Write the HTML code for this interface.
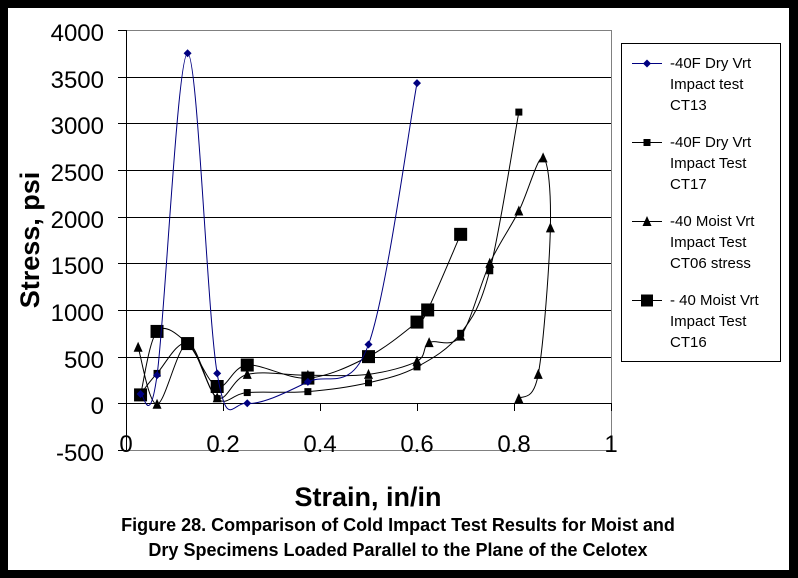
<!DOCTYPE html>
<html><head><meta charset="utf-8"><style>
html,body{margin:0;padding:0;background:#000;}
svg{display:block;font-family:"Liberation Sans",Arial,sans-serif;}
</style></head><body>
<svg id="s" width="798" height="578" xmlns="http://www.w3.org/2000/svg">
<rect x="0" y="0" width="798" height="578" fill="#000"/>
<rect x="8" y="8" width="781" height="562" fill="#fff"/>
<g id="grid"></g>
<g font-size="24" text-anchor="end" fill="#000">
<text x="104" y="41">4000</text><text x="104" y="88">3500</text><text x="104" y="134">3000</text>
<text x="104" y="181">2500</text><text x="104" y="228">2000</text><text x="104" y="274">1500</text>
<text x="104" y="321">1000</text><text x="104" y="368">500</text><text x="104" y="414">0</text>
<text x="104" y="461">-500</text>
</g>
<g font-size="24" text-anchor="middle">
<text x="126" y="452">0</text><text x="223" y="452">0.2</text><text x="320" y="452">0.4</text>
<text x="417" y="452">0.6</text><text x="514" y="452">0.8</text><text x="611" y="452">1</text>
</g>
<text transform="translate(39,240) rotate(-90)" font-size="27" font-weight="bold" text-anchor="middle">Stress, psi</text>
<text x="368" y="506" font-size="27" font-weight="bold" text-anchor="middle">Strain, in/in</text>
<text x="398" y="531" font-size="18" font-weight="bold" text-anchor="middle">Figure 28. Comparison of Cold Impact Test Results for Moist and</text>
<text x="398" y="556" font-size="18" font-weight="bold" text-anchor="middle">Dry Specimens Loaded Parallel to the Plane of the Celotex</text>
<g id="series"></g>
<rect x="621.5" y="43.5" width="159" height="318" fill="#fff" stroke="#000" stroke-width="1"/>
<g font-size="15" fill="#000">
<text x="670" y="68">-40F Dry Vrt</text><text x="670" y="89">Impact test</text><text x="670" y="110">CT13</text>
<text x="670" y="147">-40F Dry Vrt</text><text x="670" y="168">Impact Test</text><text x="670" y="189">CT17</text>
<text x="670" y="226">-40 Moist Vrt</text><text x="670" y="247">Impact Test</text><text x="670" y="268">CT06 stress</text>
<text x="670" y="305">- 40 Moist Vrt</text><text x="670" y="326">Impact Test</text><text x="670" y="347">CT16</text>
</g>
<g id="leg"></g>
</svg>
<script>
var NS="http://www.w3.org/2000/svg";
function el(p,t,a){var e=document.createElementNS(NS,t);for(var k in a)e.setAttribute(k,a[k]);p.appendChild(e);return e;}
function X(v){return 126+v*485;}
function Y(v){return 403.3-v*46.67/500;}
var g=document.getElementById('grid');
for(var i=1;i<=7;i++){var y=Math.round(Y(i*500))+0.5;el(g,'line',{x1:126,x2:611,y1:y,y2:y,stroke:'#000'});}
el(g,'line',{x1:126,x2:611,y1:30.5,y2:30.5,stroke:'#808080'});
el(g,'line',{x1:126,x2:611,y1:450.5,y2:450.5,stroke:'#808080'});
el(g,'line',{x1:611.5,x2:611.5,y1:30,y2:450,stroke:'#808080'});
el(g,'line',{x1:126.5,x2:126.5,y1:30,y2:450,stroke:'#000'});
el(g,'line',{x1:126,x2:611,y1:403.5,y2:403.5,stroke:'#000'});
for(var i=0;i<=9;i++){var y=Math.round(Y(i*500-500))+0.5;el(g,'line',{x1:118,x2:126,y1:y,y2:y,stroke:'#000'});}
for(var i=1;i<=5;i++){var x=Math.round(X(i*0.2))+0.5;el(g,'line',{x1:x,x2:x,y1:403,y2:411,stroke:'#000'});}
var S=[
{c:'#000',m:'sq',s:7,d:[[0.03,100],[0.064,320],[0.127,640],[0.188,50],[0.25,115],[0.375,125],[0.5,220],[0.6,390],[0.69,750],[0.75,1420],[0.81,3120]]},
{c:'#000',m:'sq',s:13,d:[[0.03,90],[0.064,770],[0.127,640],[0.188,180],[0.25,410],[0.375,270],[0.5,500],[0.6,870],[0.622,1000],[0.69,1810]]},
{c:'#000',m:'tri',s:9,d:[[0.025,600],[0.064,-10],[0.127,640],[0.188,60],[0.25,310],[0.375,300],[0.5,310],[0.6,450],[0.625,650],[0.69,720],[0.75,1500],[0.81,2060],[0.86,2630],[0.875,1880],[0.85,310],[0.81,50]]},
{c:'#000080',m:'dia',s:8,d:[[0.03,100],[0.064,300],[0.127,3750],[0.188,320],[0.25,0],[0.375,230],[0.5,630],[0.6,3430]]}
];
var sg=document.getElementById('series');
function mk(p,m,x,y,s,c){
 if(m=='sq')el(p,'rect',{x:x-s/2,y:y-s/2,width:s,height:s,fill:c});
 else if(m=='tri')el(p,'polygon',{points:(x)+','+(y-s/2-1)+' '+(x-s/2)+','+(y+s/2)+' '+(x+s/2)+','+(y+s/2),fill:c});
 else el(p,'polygon',{points:x+','+(y-s/2)+' '+(x+s/2)+','+y+' '+x+','+(y+s/2)+' '+(x-s/2)+','+y,fill:c});
}
S.forEach(function(se){
 var P=se.d.map(function(p){return [X(p[0]),Y(p[1])];});
 var d='M'+P[0][0]+','+P[0][1];
 for(var i=0;i<P.length-1;i++){
  var p0=P[i-1]||P[i],p1=P[i],p2=P[i+1],p3=P[i+2]||P[i+1];
  var c1=[p1[0]+(p2[0]-p0[0])/6,p1[1]+(p2[1]-p0[1])/6];
  var c2=[p2[0]-(p3[0]-p1[0])/6,p2[1]-(p3[1]-p1[1])/6];
  d+=' C'+c1+' '+c2+' '+p2;
 }
 el(sg,'path',{d:d,fill:'none',stroke:se.c,'stroke-width':1});
 P.forEach(function(p){mk(sg,se.m,p[0],p[1],se.s,se.c);});
});
var lg=document.getElementById('leg');
[[63,'#000080','dia',8],[142,'#000','sq',7],[221,'#000','tri',9],[300,'#000','sq',12]].forEach(function(l){
 el(lg,'line',{x1:632,x2:662,y1:l[0]+0.5,y2:l[0]+0.5,stroke:l[1]});
 mk(lg,l[2],647,l[0]+0.5,l[3],l[1]);
});
</script>
</body></html>
